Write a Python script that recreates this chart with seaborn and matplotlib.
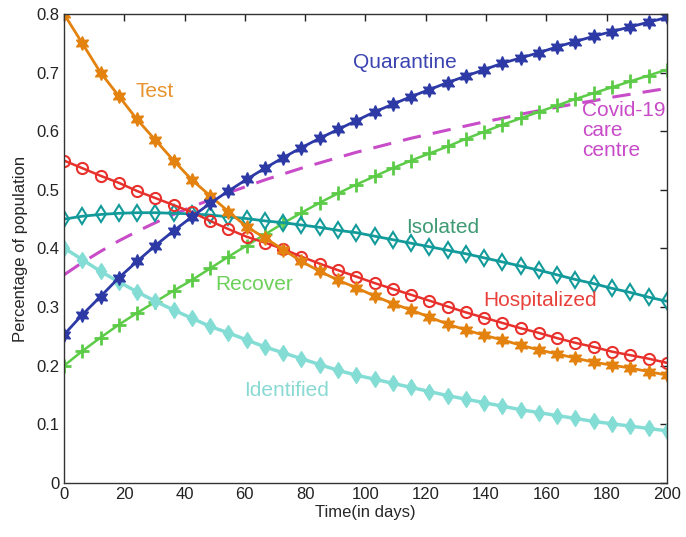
import seaborn as sns
import pandas as pd
import matplotlib.pyplot as plt

days = [0, 6.06, 12.12, 18.18, 24.24, 30.3, 36.36, 42.42, 48.48, 54.55,
        60.61, 66.67, 72.73, 78.79, 84.85, 90.91, 96.97, 103.03, 109.09, 115.15,
        121.21, 127.27, 133.33, 139.39, 145.45, 151.52, 157.58, 163.64, 169.7, 175.76,
        181.82, 187.88, 193.94, 200]

test = [0.800, 0.750, 0.700, 0.660, 0.620, 0.585, 0.550, 0.517, 0.490, 0.463,
        0.437, 0.418, 0.398, 0.378, 0.361, 0.346, 0.333, 0.319, 0.306, 0.295,
        0.283, 0.271, 0.261, 0.252, 0.244, 0.235, 0.227, 0.220, 0.213, 0.206,
        0.201, 0.196, 0.190, 0.184]
quarantine = [0.253, 0.287, 0.318, 0.350, 0.378, 0.405, 0.430, 0.454, 0.477, 0.498,
              0.518, 0.537, 0.555, 0.572, 0.588, 0.603, 0.618, 0.633, 0.646, 0.659,
              0.671, 0.683, 0.694, 0.705, 0.716, 0.725, 0.734, 0.744, 0.753, 0.762,
              0.770, 0.778, 0.786, 0.794]
hospitalized = [0.550, 0.537, 0.524, 0.512, 0.498, 0.486, 0.474, 0.462, 0.447, 0.433,
                0.420, 0.410, 0.399, 0.386, 0.374, 0.363, 0.352, 0.341, 0.331, 0.321,
                0.311, 0.301, 0.291, 0.282, 0.273, 0.264, 0.256, 0.247, 0.239, 0.232,
                0.224, 0.218, 0.212, 0.205]
isolated = [0.450, 0.455, 0.458, 0.460, 0.461, 0.461, 0.460, 0.459, 0.457, 0.454,
            0.451, 0.447, 0.444, 0.440, 0.436, 0.431, 0.427, 0.421, 0.415, 0.409,
            0.403, 0.397, 0.391, 0.384, 0.377, 0.370, 0.363, 0.355, 0.347, 0.340,
            0.332, 0.325, 0.317, 0.310]
identified = [0.401, 0.381, 0.361, 0.343, 0.326, 0.310, 0.295, 0.281, 0.267, 0.256,
              0.244, 0.232, 0.222, 0.212, 0.202, 0.192, 0.184, 0.177, 0.170, 0.163,
              0.156, 0.149, 0.143, 0.137, 0.131, 0.125, 0.120, 0.115, 0.110, 0.105,
              0.101, 0.097, 0.093, 0.089]
recover = [0.200, 0.225, 0.248, 0.270, 0.290, 0.309, 0.328, 0.346, 0.366, 0.386,
           0.405, 0.424, 0.443, 0.461, 0.478, 0.494, 0.509, 0.523, 0.537, 0.550,
           0.562, 0.574, 0.587, 0.599, 0.611, 0.622, 0.633, 0.644, 0.655, 0.665,
           0.675, 0.685, 0.695, 0.705]
care_centre = [0.355, 0.376, 0.395, 0.413, 0.429, 0.444, 0.458, 0.471, 0.483, 0.495,
               0.506, 0.517, 0.527, 0.537, 0.546, 0.555, 0.564, 0.572, 0.580, 0.588,
               0.595, 0.602, 0.609, 0.616, 0.622, 0.629, 0.635, 0.641, 0.647, 0.652,
               0.658, 0.663, 0.668, 0.673]

sns.set_style("white")
plt.rcParams['font.family'] = ['Liberation Sans', 'DejaVu Sans']

fig = plt.figure(figsize=(6.86, 5.37), dpi=100)
ax = fig.add_axes([0.0933, 0.1006, 0.8787, 0.8734])

star6 = (6, 1, 0)
# dashed care-centre curve, no markers
sns.lineplot(x=days, y=care_centre, color="#C84BC8", lw=2.2, ax=ax)
ax.lines[-1].set_dashes([6, 4])
sns.lineplot(x=days, y=recover, color="#5CCB47", lw=1.8, marker="+",
             markersize=10, markeredgewidth=2, markeredgecolor="#5CCB47", ax=ax)
sns.lineplot(x=days, y=identified, color="#84DDD5", lw=2.5, marker="d",
             markersize=8, markeredgewidth=1, markeredgecolor="#84DDD5", ax=ax)
sns.lineplot(x=days, y=isolated, color="#139A9A", lw=2, marker="d",
             markersize=8, markerfacecolor="none", markeredgewidth=1.5,
             markeredgecolor="#139A9A", ax=ax)
sns.lineplot(x=days, y=hospitalized, color="#E8312C", lw=1.8, marker="o",
             markersize=8, markerfacecolor="none", markeredgewidth=1.5,
             markeredgecolor="#E8312C", ax=ax)
sns.lineplot(x=days, y=test, color="#E3820F", lw=2, marker=star6,
             markersize=10, markeredgewidth=1, markeredgecolor="#E3820F", ax=ax)
sns.lineplot(x=days, y=quarantine, color="#2D3AA6", lw=2, marker=star6,
             markersize=10, markeredgewidth=1, markeredgecolor="#2D3AA6", ax=ax)

# curve labels
fs = 15
ax.text(30, 0.667, "Test", color="#E8922E", fontsize=fs, ha="center", va="center")
ax.text(113, 0.718, "Quarantine", color="#3B44B0", fontsize=fs, ha="center", va="center")
ax.text(172, 0.651, "Covid-19\ncare\ncentre", color="#C84BC8", fontsize=fs,
        ha="left", va="top", linespacing=1.05)
ax.text(125.5, 0.435, "Isolated", color="#3E9A72", fontsize=fs, ha="center", va="center")
ax.text(63, 0.338, "Recover", color="#6CD05A", fontsize=fs, ha="center", va="center")
ax.text(158, 0.312, "Hospitalized", color="#E8403A", fontsize=fs, ha="center", va="center")
ax.text(74, 0.158, "Identified", color="#8ADAD4", fontsize=fs, ha="center", va="center")

ax.set_xlim(0, 200)
ax.set_ylim(0, 0.8)
ax.set_xticks(range(0, 201, 20))
ax.set_yticks([0, 0.1, 0.2, 0.3, 0.4, 0.5, 0.6, 0.7, 0.8])
ax.set_yticklabels(["0", "0.1", "0.2", "0.3", "0.4", "0.5", "0.6", "0.7", "0.8"])
ax.tick_params(direction="in", length=5, width=1, top=True, right=True,
               labelsize=12, colors="#222222", pad=3)
for s in ax.spines.values():
    s.set_color("#333333")
    s.set_linewidth(1)
ax.set_xlabel("Time(in days)", fontsize=12, labelpad=2)
ax.set_ylabel("Percentage of population", fontsize=12, labelpad=6)

fig.savefig("out.png", dpi=100)
